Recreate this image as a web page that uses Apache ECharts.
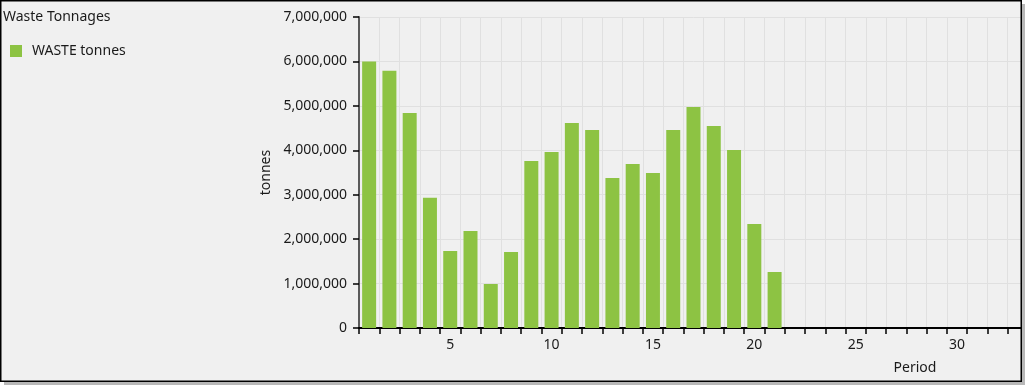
<!DOCTYPE html>
<html>
<head>
<meta charset="utf-8">
<script src="https://cdn.jsdelivr.net/npm/echarts@6/dist/echarts.min.js"></script>
<style>
html,body{margin:0;padding:0;background:#fff;}
#chart{width:1028px;height:388px;}
</style>
</head>
<body>
<div id="chart"></div>
<script>
// Periods 1..33
const periods = [1,2,3,4,5,6,7,8,9,10,11,12,13,14,15,16,17,18,19,20,21,22,23,24,25,26,27,28,29,30,31,32,33];
// WASTE tonnes per period (empty after 21)
const wasteTonnes = [6000000,5790000,4840000,2930000,1735000,2185000,990000,1710000,3760000,3960000,
  4615000,4455000,3375000,3690000,3490000,4455000,4975000,4545000,4005000,2340000,1260000,
  null,null,null,null,null,null,null,null,null,null,null,null];
const xTickLabels = [5,10,15,20,25,30];
const yTicks = [0,1000000,2000000,3000000,4000000,5000000,6000000,7000000];

const FONT = '"Noto Sans", "Open Sans", sans-serif';
const TXT = '#1a1a1a';
const chart = echarts.init(document.getElementById('chart'), null, {renderer:'canvas'});
chart.setOption({
  backgroundColor: '#f0f0f0',
  animation: false,
  textStyle: {fontFamily: FONT},
  title: {
    text: 'Waste Tonnages', left: 3, top: 9, padding: 0,
    textStyle: {fontFamily: FONT, fontSize: 14, fontWeight: 'normal', color: TXT, lineHeight: 16}
  },
  legend: {
    left: 10, top: 44, padding: 0, icon: 'rect', itemWidth: 12, itemHeight: 12,
    textStyle: {fontFamily: FONT, fontSize: 14, color: TXT, lineHeight: 14, padding: [0,0,0,5]},
    data: ['WASTE tonnes']
  },
  grid: {left: 359, top: 17, bottom: 60, right: -2, containLabel: false},
  xAxis: {
    type: 'category',
    data: periods,
    boundaryGap: true,
    name: 'Period',
    nameLocation: 'end',
    nameGap: -113,
    nameTextStyle: {fontFamily: FONT, fontSize: 14, color: TXT, align: 'center', verticalAlign: 'top', lineHeight: 16, padding: [32,0,0,0]},
    axisLine: {show: true, lineStyle: {color: '#000', width: 2}},
    axisTick: {show: true, interval: 0, alignWithLabel: false, inside: false, length: 6, lineStyle: {color: '#000', width: 1.5}},
    axisLabel: {
      interval: (i, v) => xTickLabels.includes(Number(v)),
      margin: 10, fontFamily: FONT, fontSize: 14, color: TXT
    },
    splitLine: {show: true, interval: 0, lineStyle: {color: '#e0e0e0', width: 1}}
  },
  yAxis: {
    type: 'value',
    min: yTicks[0], max: yTicks[yTicks.length-1], interval: 1000000,
    name: 'tonnes',
    nameLocation: 'middle',
    nameGap: 82,
    nameTextStyle: {fontFamily: FONT, fontSize: 14, color: TXT},
    axisLine: {show: true, lineStyle: {color: '#5a5a5a', width: 2}},
    axisTick: {show: true, inside: false, length: 6, lineStyle: {color: '#000', width: 1.5}},
    axisLabel: {
      margin: 12, fontFamily: FONT, fontSize: 14, color: TXT,
      formatter: v => v.toLocaleString('en-US')
    },
    splitLine: {show: true, lineStyle: {color: '#e0e0e0', width: 1}}
  },
  series: [{
    name: 'WASTE tonnes',
    type: 'bar',
    data: wasteTonnes,
    barCategoryGap: '31%',
    itemStyle: {color: '#8dc343'}
  }],
  graphic: [
    {type: 'rect', z: 100, silent: true, shape: {x: 1022, y: 0, width: 10, height: 388}, style: {fill: '#ffffff'}},
    {type: 'rect', z: 100, silent: true, shape: {x: 0, y: 382, width: 1028, height: 10}, style: {fill: '#ffffff'}},
    {type: 'rect', z: 101, silent: true, shape: {x: 1022, y: 4, width: 3, height: 381}, style: {fill: '#9a9a9a', opacity: 0.7}},
    {type: 'rect', z: 101, silent: true, shape: {x: 4, y: 382, width: 1018, height: 3}, style: {fill: '#9a9a9a', opacity: 0.7}},
    {type: 'rect', z: 102, silent: true, shape: {x: 0.75, y: 0.75, width: 1020.5, height: 380.5}, style: {fill: null, stroke: '#000', lineWidth: 1.5}}
  ]
});
</script>
</body>
</html>
